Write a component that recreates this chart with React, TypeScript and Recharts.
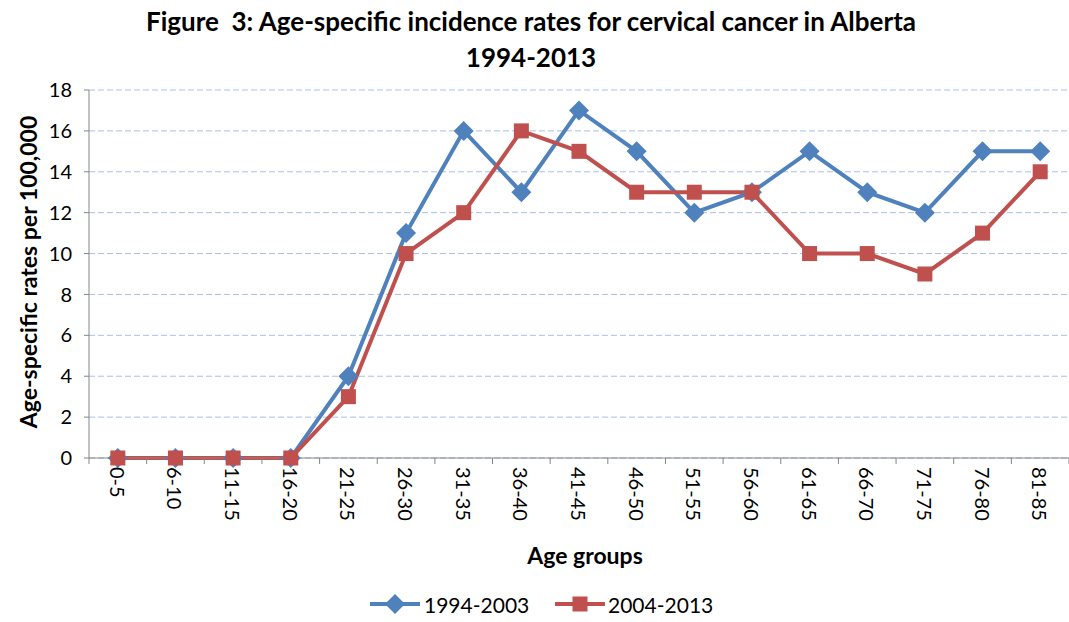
import React from "react"
import { LineChart, Line, XAxis, YAxis, CartesianGrid, Legend } from "recharts"

const ageGroups = [
  "0-5", "6-10", "11-15", "16-20", "21-25", "26-30", "31-35", "36-40", "41-45",
  "46-50", "51-55", "56-60", "61-65", "66-70", "71-75", "76-80", "81-85",
]
const rates1994 = [0, 0, 0, 0, 4, 11, 16, 13, 17, 15, 12, 13, 15, 13, 12, 15, 15]
const rates2004 = [0, 0, 0, 0, 3, 10, 12, 16, 15, 13, 13, 13, 10, 10, 9, 11, 14]
const yTicks = [0, 2, 4, 6, 8, 10, 12, 14, 16, 18]

const W = 1069
const H = 622
const LEFT = 89
const RIGHT = 0
const BAND = (W - LEFT - RIGHT) / ageGroups.length
const FONT = "Lato, 'Open Sans', sans-serif"
const BLUE = "#4F81BD"
const RED = "#C0504D"

const data = ageGroups.map((g, i) => ({ group: g, a: rates1994[i], b: rates2004[i] }))

const Diamond = ({ cx, cy }: any) => {
  if (cx == null || cy == null) return null
  const r = 10
  return <path d={`M${cx},${cy - r}L${cx + r},${cy}L${cx},${cy + r}L${cx - r},${cy}Z`} fill={BLUE} />
}

const Square = ({ cx, cy }: any) => {
  if (cx == null || cy == null) return null
  const s = 15
  return <rect x={cx - s / 2} y={cy - s / 2} width={s} height={s} fill={RED} />
}

const XTick = ({ x, y, payload, index }: any) => (
  <g>
    <line x1={x - BAND / 2} x2={x - BAND / 2} y1={y} y2={y + 6} stroke="#868686" />
    {index === ageGroups.length - 1 && (
      <line x1={x + BAND / 2} x2={x + BAND / 2} y1={y} y2={y + 6} stroke="#868686" />
    )}
    <text
      x={x}
      y={y + 9}
      transform={`rotate(90, ${x}, ${y + 9})`}
      textAnchor="start"
      dominantBaseline="central"
      fontSize={20}
      fontFamily={FONT}
      fill="#000"
    >
      {payload.value}
    </text>
  </g>
)

const LegendContent = () => (
  <svg width={360} height={26} style={{ overflow: "visible" }}>
    <line x1={10} x2={60} y1={13} y2={13} stroke={BLUE} strokeWidth={4} />
    <Diamond cx={35} cy={13} />
    <text x={64} y={13} dominantBaseline="central" fontSize={21} fontFamily={FONT}>1994-2003</text>
    <line x1={195} x2={245} y1={13} y2={13} stroke={RED} strokeWidth={4} />
    <Square cx={220} cy={13} />
    <text x={248} y={13} dominantBaseline="central" fontSize={21} fontFamily={FONT}>2004-2013</text>
  </svg>
)

export default function App() {
  return (
    <div style={{ position: "absolute", left: 0, top: 0, width: W, height: H, background: "#fff", fontFamily: FONT }}>
      <div
        style={{
          position: "absolute", left: 0, top: 3, width: 1062, textAlign: "center",
          fontWeight: 700, fontSize: 26, lineHeight: "36px", color: "#000",
        }}
      >
        Figure&nbsp; 3: Age-specific incidence rates for cervical cancer in Alberta
        <br />
        1994-2013
      </div>
      <LineChart width={W} height={H} data={data} margin={{ top: 90, right: RIGHT, left: 0, bottom: 0 }}>
        <CartesianGrid vertical={false} stroke="#a9c1e8" strokeDasharray="6 3" />
        <XAxis
          dataKey="group"
          interval={0}
          tick={<XTick />}
          tickLine={false}
          tickSize={0}
          tickMargin={0}
          height={135}
          padding={{ left: BAND / 2, right: BAND / 2 }}
          axisLine={{ stroke: "#868686" }}
        />
        <YAxis
          domain={[0, 18]}
          ticks={yTicks}
          width={LEFT}
          tickSize={5}
          tickMargin={12}
          axisLine={{ stroke: "#868686" }}
          tickLine={{ stroke: "#868686" }}
          tick={{ fontSize: 20, fill: "#000", fontFamily: FONT }}
        />
        <Legend
          verticalAlign="bottom"
          content={<LegendContent />}
          wrapperStyle={{ left: 360, bottom: 2, width: 360 }}
        />
        <Line dataKey="a" stroke={BLUE} strokeWidth={4} dot={<Diamond />} activeDot={false} isAnimationActive={false} />
        <Line dataKey="b" stroke={RED} strokeWidth={4} dot={<Square />} activeDot={false} isAnimationActive={false} />
      </LineChart>
      <svg width={W} height={H} style={{ position: "absolute", left: 0, top: 0, pointerEvents: "none" }}>
        <text
          x={28}
          y={272}
          transform="rotate(-90, 28, 272)"
          textAnchor="middle"
          dominantBaseline="central"
          fontWeight={700}
          fontSize={23}
          fontFamily={FONT}
        >
          Age-specific rates per 100,000
        </text>
        <text x={585} y={555} textAnchor="middle" dominantBaseline="central" fontWeight={700} fontSize={23} fontFamily={FONT}>
          Age groups
        </text>
      </svg>
    </div>
  )
}
